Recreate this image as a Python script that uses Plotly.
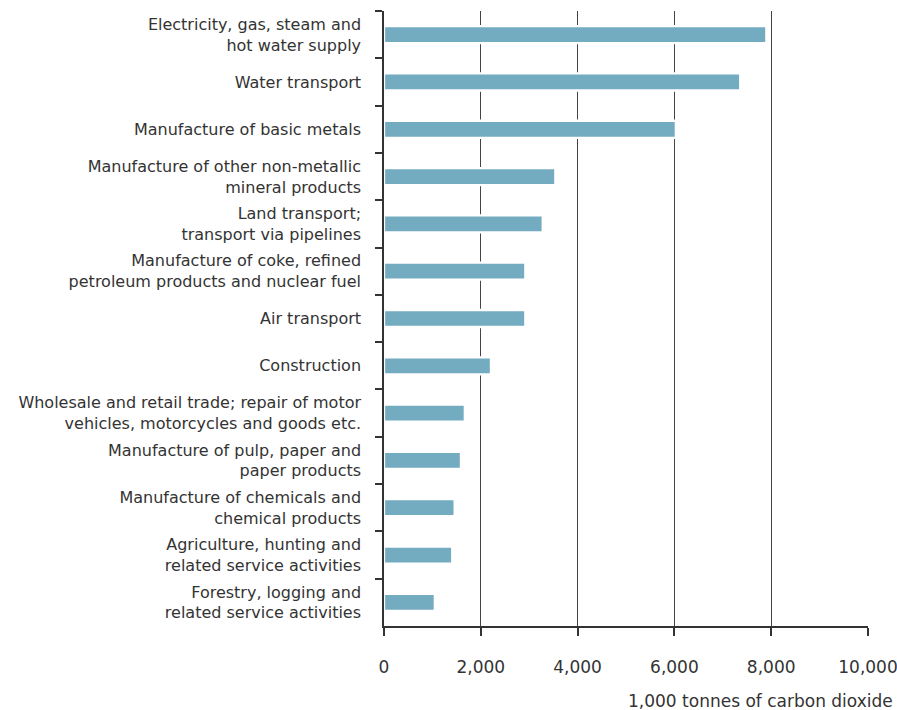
import plotly.graph_objects as go

categories = [
    "Electricity, gas, steam and<br>hot water supply",
    "Water transport",
    "Manufacture of basic metals",
    "Manufacture of other non-metallic<br>mineral products",
    "Land transport;<br>transport via pipelines",
    "Manufacture of coke, refined<br>petroleum products and nuclear fuel",
    "Air transport",
    "Construction",
    "Wholesale and retail trade; repair of motor<br>vehicles, motorcycles and goods etc.",
    "Manufacture of pulp, paper and<br>paper products",
    "Manufacture of chemicals and<br>chemical products",
    "Agriculture, hunting and<br>related service activities",
    "Forestry, logging and<br>related service activities",
]
values = [7900, 7360, 6030, 3540, 3280, 2920, 2920, 2210, 1670, 1590, 1460, 1410, 1050]
x_ticks = [0, 2000, 4000, 6000, 8000, 10000]
x_tick_labels = ["0", "2,000", "4,000", "6,000", "8,000", "10,000"]
x_title = "1,000 tonnes of carbon dioxide"

FONT = "DejaVu Sans"

fig = go.Figure(
    go.Bar(
        x=values,
        y=categories,
        orientation="h",
        marker=dict(color="#73abc1", line=dict(color="white", width=2.3)),
        hoverinfo="x+y",
    )
)

fig.update_layout(
    width=897,
    height=710,
    margin=dict(l=384, r=29, t=11, b=84, autoexpand=False),
    paper_bgcolor="white",
    plot_bgcolor="white",
    bargap=0.64,
    showlegend=False,
    font=dict(family=FONT, size=16, color="#333333"),
)

fig.update_yaxes(
    autorange="reversed",
    tickson="boundaries",
    ticks="outside",
    ticklen=7,
    tickwidth=1.5,
    tickcolor="#333333",
    showline=True,
    linecolor="#333333",
    linewidth=1.5,
    showgrid=False,
    ticklabelstandoff=18,
    tickfont=dict(family=FONT, size=16, color="#333333"),
)

fig.update_xaxes(
    range=[0, 10000],
    tickvals=x_ticks,
    ticktext=x_tick_labels,
    ticks="outside",
    ticklen=8,
    tickwidth=1.5,
    tickcolor="#333333",
    showline=True,
    linecolor="#333333",
    linewidth=1.5,
    showgrid=True,
    gridcolor="#444444",
    gridwidth=1.3,
    zeroline=False,
    ticklabelstandoff=17,
    ticklabeloverflow="allow",
    tickfont=dict(family=FONT, size=17, color="#333333"),
)

fig.add_annotation(
    text=x_title,
    xref="paper",
    yref="paper",
    x=1.056,
    y=-0.122,
    xanchor="right",
    yanchor="middle",
    showarrow=False,
    font=dict(family=FONT, size=17, color="#333333"),
)

fig.write_html(
    "out.html",
    config={"displayModeBar": False},
    post_script="document.body.style.margin='0';document.body.style.padding='0';",
)
